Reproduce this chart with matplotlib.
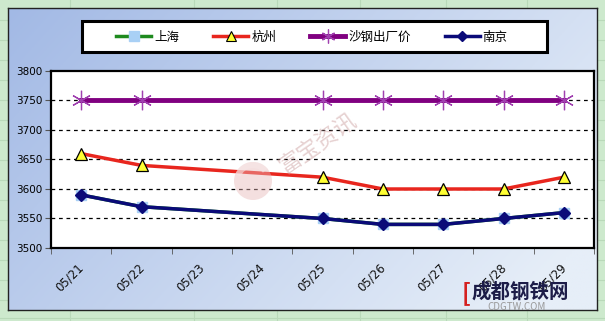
import numpy as np
import matplotlib
matplotlib.use("Agg")
import matplotlib.pyplot as plt
import matplotlib.transforms as mtransforms
from matplotlib.patches import Rectangle, Circle, Wedge
from matplotlib.lines import Line2D

plt.rcParams['font.family'] = ['Noto Sans CJK SC', 'DejaVu Sans']

# ---- data ----
dates = ["05/21", "05/22", "05/23", "05/24", "05/25", "05/26", "05/27", "05/28", "05/29"]
obs_dates = ["05/21", "05/22", "05/25", "05/26", "05/27", "05/28", "05/29"]
shanghai = [3590, 3570, 3550, 3540, 3540, 3550, 3560]
hangzhou = [3660, 3640, 3620, 3600, 3600, 3600, 3620]
shagang = [3750, 3750, 3750, 3750, 3750, 3750, 3750]
nanjing = [3590, 3570, 3550, 3540, 3540, 3550, 3560]
series_names = ["上海", "杭州", "沙钢出厂价", "南京"]
yticks = [3500, 3550, 3600, 3650, 3700, 3750, 3800]

W, H = 605, 321
fig = plt.figure(figsize=(W / 100, H / 100), dpi=100)
fig.patch.set_facecolor('#cde9cd')

# background sheet grid (decoration)
bg = fig.add_axes([0, 0, 1, 1], zorder=-10)
bg.set_xlim(0, W); bg.set_ylim(H, 0); bg.axis('off')
for gx in [70, 194, 277, 360, 446, 527]:
    bg.plot([gx, gx], [0, H], color='#b9d9b9', lw=0.8)
for gy in [20, 40, 60, 80, 100, 120, 140, 160, 180, 200, 220, 240, 260, 280, 300, 318]:
    bg.plot([0, W], [gy, gy], color='#b9d9b9', lw=0.8)

# chart area with gradient
cx0, cy0, cx1, cy1 = 8, 8, 597, 310
ca = fig.add_axes([cx0 / W, 1 - cy1 / H, (cx1 - cx0) / W, (cy1 - cy0) / H], zorder=-5)
ca.set_xlim(0, 1); ca.set_ylim(0, 1)
gx, gy = np.meshgrid(np.linspace(0, 1, 200), np.linspace(1, 0, 100))
t = np.clip(0.75 * gx + 0.35 * (1 - gy), 0, 1)
c0 = np.array([0xa2, 0xb9, 0xe5]) / 255
c1 = np.array([0xe6, 0xee, 0xf8]) / 255
img = c0[None, None, :] * (1 - t[..., None]) + c1[None, None, :] * t[..., None]
ca.imshow(img, extent=[0, 1, 0, 1], aspect='auto')
ca.set_xticks([]); ca.set_yticks([])
for s in ca.spines.values():
    s.set_color('#222222'); s.set_linewidth(1.0)

# plot area
px0, py0, px1, py1 = 51, 71, 594, 248
ax = fig.add_axes([px0 / W, 1 - py1 / H, (px1 - px0) / W, (py1 - py0) / H])
ax.set_facecolor('white')

xi = [dates.index(d) for d in obs_dates]

for yv in yticks[1:-1]:
    ax.axhline(yv, color='black', lw=0.9, ls=(0, (3, 3)), zorder=1)

ax.plot(xi, shanghai, color='#1e8a1e', lw=2.5, marker='s', ms=7,
        mfc='#a9d0f5', mec='#a9d0f5', zorder=3, label=series_names[0])
ax.plot(xi, hangzhou, color='#e8261e', lw=2.5, marker='^', ms=8,
        mfc='#ffff33', mec='black', mew=0.9, zorder=4, label=series_names[1])
ax.plot(xi, shagang, color='#800080', lw=3.5, zorder=4, label=series_names[2])
ax.plot(xi, shagang, ls='none', marker=(6, 2, 0), ms=14, mec='#a040b0', mew=0.9, zorder=5)
ax.plot(xi, nanjing, color='#0a0a78', lw=2.5, marker='D', ms=6,
        mfc='#0a0a78', mec='#0a0a78', zorder=6, label=series_names[3])

ax.set_xlim(-0.5, len(dates) - 0.5)
ax.set_ylim(3500, 3800)
ax.set_yticks(yticks)
ax.set_yticklabels([str(v) for v in yticks], fontsize=7.5, family='DejaVu Sans')
ax.set_xticks(np.arange(len(dates)))
ax.set_xticklabels(dates, rotation=45, fontsize=8.5, family='DejaVu Sans',
                   ha='right', va='top', rotation_mode='anchor', color='#111111')
ax.tick_params(axis='x', length=0, pad=10)
offset = mtransforms.ScaledTranslation(-0.04, 0.01, fig.dpi_scale_trans)
for lab in ax.get_xticklabels():
    lab.set_transform(lab.get_transform() + offset)
ax.set_xticks(np.arange(-0.5, len(dates)), minor=True)
ax.tick_params(axis='x', which='minor', length=4, direction='out', color='#555555')
ax.tick_params(axis='y', length=4, direction='out', pad=2, color='#555555')
for s in ax.spines.values():
    s.set_color('black'); s.set_linewidth(1.6)

# overlay for watermarks and legend frame (pixel coordinates)
ov = fig.add_axes([0, 0, 1, 1], zorder=20)
ov.set_xlim(0, W); ov.set_ylim(H, 0); ov.axis('off'); ov.patch.set_alpha(0)
ov.add_patch(Circle((253, 181), 19, facecolor='#e8b8b8', edgecolor='none', alpha=0.45))
ov.add_patch(Wedge((253, 181), 19, 200, 320, width=6, facecolor='#f6e6e6', edgecolor='none', alpha=0.6))
ov.text(318, 143, "富宝资讯", fontsize=16, color='#c89898', alpha=0.45,
        rotation=35, ha='center', va='center')
# site logo bottom-right
ov.text(466, 293, "[", fontsize=17, fontweight='bold', color='#d42020', ha='center', va='center')
ov.text(520, 292, "成都钢铁网", fontsize=14, fontweight='bold', color='#1c1c48',
        ha='center', va='center')
ov.text(517, 307, "CDGTW.COM", fontsize=7, color='#999999', ha='center', va='center')

# legend frame
ov.add_patch(Rectangle((82, 21), 465, 31, facecolor='white', edgecolor='black', lw=2.2, zorder=1))

# legend
handles = [
    Line2D([], [], color='#1e8a1e', lw=2.5, marker='s', ms=7, mfc='#a9d0f5', mec='#a9d0f5'),
    Line2D([], [], color='#e8261e', lw=2.5, marker='^', ms=7, mfc='#ffff33', mec='black', mew=0.8),
    Line2D([], [], color='#800080', lw=3.5, marker=(6, 2, 0), ms=10, mec='#a040b0', mew=0.9),
    Line2D([], [], color='#0a0a78', lw=2.5, marker='D', ms=5, mfc='#0a0a78', mec='#0a0a78'),
]
leg = ov.legend(handles, series_names, loc='center', bbox_to_anchor=(312 / W, 1 - 37 / H),
                bbox_transform=fig.transFigure,
                ncol=4, fontsize=9, frameon=False, handlelength=2.8,
                handletextpad=0.25, columnspacing=2.7, borderpad=0.3)
leg.set_zorder(30)

fig.savefig("out.png", dpi=100, facecolor=fig.get_facecolor())
